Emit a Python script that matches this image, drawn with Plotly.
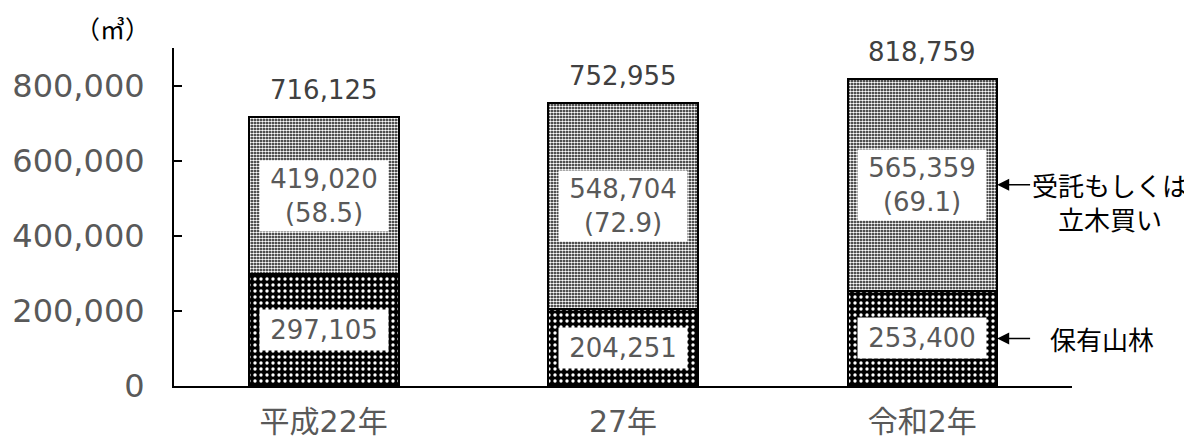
import plotly.graph_objects as go

categories = ["平成22年", "27年", "令和2年"]
own_forest = [297105, 204251, 253400]
contract = [419020, 548704, 565359]
contract_share = [58.5, 72.9, 69.1]
totals = [716125, 752955, 818759]
y_ticks = [0, 200000, 400000, 600000, 800000]
series_names = ["保有山林", "受託もしくは<br>立木買い"]
unit_label = "（㎥）"

NUMFONT = "DejaVu Sans, Noto Sans CJK JP"
CJK = "Noto Sans CJK JP"
GRAY = "#595959"

fig = go.Figure()
fig.add_trace(go.Bar(
    x=categories, y=own_forest, name=series_names[0], width=0.5,
    marker=dict(color="black", line=dict(color="black", width=2),
                pattern=dict(shape=".", fgcolor="white", bgcolor="black",
                             size=6, solidity=0.25, fillmode="replace")),
))
fig.add_trace(go.Bar(
    x=categories, y=contract, name=series_names[1], width=0.5,
    marker=dict(color="black", line=dict(color="black", width=2),
                pattern=dict(shape=".", fgcolor="white", bgcolor="black",
                             size=3, solidity=0.6, fillmode="replace")),
))

anns = []
for i, c in enumerate(categories):
    anns.append(dict(x=c, y=own_forest[i] / 2, text=f"{own_forest[i]:,}",
                     showarrow=False, bgcolor="white", width=126, height=38,
                     font=dict(family=NUMFONT, size=26, color=GRAY)))
    anns.append(dict(x=c, y=own_forest[i] + contract[i] / 2,
                     text=f"{contract[i]:,}<br>({contract_share[i]})",
                     showarrow=False, bgcolor="white", width=126, height=68,
                     font=dict(family=NUMFONT, size=26, color=GRAY)))
    anns.append(dict(x=c, y=totals[i], text=f"{totals[i]:,}", showarrow=False,
                     yanchor="bottom", yshift=10,
                     font=dict(family=NUMFONT, size=26, color="#404040")))

last = len(categories) - 1
for yv in (own_forest[last] + contract[last] / 2, own_forest[last] / 2):
    anns.append(dict(x=last + 0.25, y=yv, ax=last + 0.365, ay=yv,
                     axref="x", ayref="y", xref="x", yref="y", text="",
                     showarrow=True, arrowhead=2, arrowsize=1.6, arrowwidth=1.5,
                     arrowcolor="black"))
anns.append(dict(xref="paper", x=1.042, xanchor="center",
                 y=own_forest[last] + contract[last] / 2,
                 text=series_names[1], showarrow=False, yanchor="top", yshift=21,
                 font=dict(family=CJK, size=26, color="black")))
anns.append(dict(xref="paper", x=1.033, xanchor="center", y=own_forest[last] / 2,
                 text=series_names[0], showarrow=False,
                 font=dict(family=CJK, size=26, color="black")))
anns.append(dict(xref="paper", yref="paper", x=-0.069, y=1.0, xanchor="center",
                 yanchor="middle", yshift=20, text=unit_label, showarrow=False,
                 font=dict(family=CJK, size=25, color="black")))

fig.update_layout(
    width=1184, height=432,
    margin=dict(l=166, r=120, t=40, b=54, autoexpand=False),
    barmode="stack", showlegend=False,
    plot_bgcolor="white", paper_bgcolor="white",
    annotations=anns,
    xaxis=dict(range=[-0.5, 2.5], showline=True, linecolor="black", linewidth=2,
               ticks="", showgrid=False, automargin=False,
               ticklabelstandoff=8,
               tickfont=dict(family=NUMFONT, size=30, color=GRAY)),
    yaxis=dict(range=[0, 900000], showline=True, linecolor="black", linewidth=2,
               ticks="inside", ticklen=8, tickwidth=2, tickcolor="black",
               tickvals=y_ticks, ticktext=[f"{v:,}" for v in y_ticks],
               showgrid=False, zeroline=False, automargin=False,
               ticklabelstandoff=21,
               tickfont=dict(family=NUMFONT, size=32, color=GRAY)),
)
fig.write_html("out.html")
